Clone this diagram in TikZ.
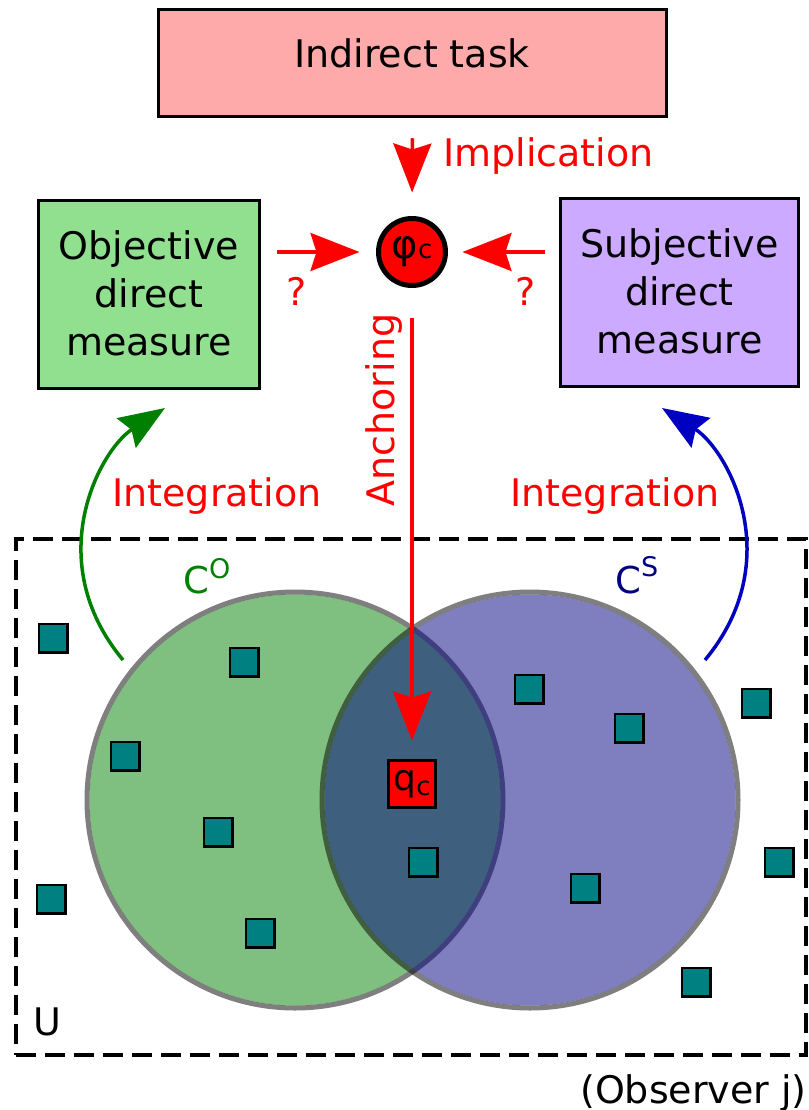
\documentclass[tikz,border=0pt]{standalone}
\usepackage{fontspec}
\setmainfont{DejaVu Sans}
\usetikzlibrary{arrows.meta,calc}
\definecolor{pinkbox}{HTML}{FFAAAA}
\definecolor{greenbox}{HTML}{90E090}
\definecolor{purplebox}{HTML}{CCAAFF}
\definecolor{tealsq}{HTML}{008080}
\definecolor{cgreen}{HTML}{008000}
\definecolor{cnavy}{HTML}{000080}
\definecolor{cblue}{HTML}{0000C0}
\begin{document}
\begin{tikzpicture}[x=1pt,y=-1pt,
  bigfont/.style={font=\fontsize{38}{48}\selectfont},
  lbl/.style={bigfont, text=red, inner sep=0pt},
  boxstyle/.style={draw=black, line width=3.5pt, inner sep=0pt},
  bigtip/.style={-{Stealth[length=49pt,width=38pt,inset=6pt]}, draw=red, line width=3.3pt},
  curvetip/.style={-{Stealth[length=46pt,width=35pt,inset=6pt]}, line width=3.5pt},
  sq/.style={draw=black, line width=2.5pt, fill=tealsq, minimum size=28.5pt, inner sep=0pt},
  venn/.style={circle, inner sep=0pt, minimum size=411pt, fill opacity=0.5, draw=none},
  ring/.style={draw=black, draw opacity=0.5, line width=5pt}
]
\useasboundingbox (0,0) rectangle (808,1110);

% universe
\node[draw=black, line width=3.5pt, dash pattern=on 20pt off 9pt, minimum width=790pt, minimum height=516pt, inner sep=0pt] (U) at (411,797) {};
\node[bigfont, anchor=base, inner sep=0pt] (Ulbl) at (47,1035) {U};
\node[bigfont, anchor=base east, inner sep=0pt] (obs) at (807,1103) {(Observer j)};

% Venn circles
\node[venn, fill=cgreen] (CO) at (295,800) {};
\draw[ring] (CO.center) circle[radius=208];
\node[venn, fill=cnavy] (CS) at (530,800) {};
\draw[ring] (CS.center) circle[radius=208];

\node[anchor=base west, inner sep=0pt, text=cgreen, font=\fontsize{37}{37}\selectfont] (COl) at (183,593) {C\raisebox{15pt}{\fontsize{27}{27}\selectfont O}};
\node[anchor=base west, inner sep=0pt, text=cnavy, font=\fontsize{37}{37}\selectfont] (CSl) at (615,593) {C\raisebox{17pt}{\fontsize{27}{27}\selectfont S}};

% elements
\node[sq] (s1) at (53,638) {};
\node[sq] (s2) at (244,662) {};
\node[sq] (s3) at (125,756) {};
\node[sq] (s4) at (218,832) {};
\node[sq] (s5) at (51,899) {};
\node[sq] (s6) at (260,933) {};
\node[sq] (s7) at (529,689) {};
\node[sq] (s8) at (629,728) {};
\node[sq] (s9) at (756,703) {};
\node[sq] (s10) at (423,862) {};
\node[sq] (s11) at (585,888) {};
\node[sq] (s12) at (779,862) {};
\node[sq] (s13) at (696,982) {};

% top boxes
\node[boxstyle, fill=pinkbox, minimum width=508pt, minimum height=107pt] (task) at (412.5,63) {};
\node[bigfont, anchor=base, inner sep=0pt] (tasktxt) at (412,68) {Indirect task};

\node[boxstyle, fill=greenbox, minimum width=221pt, minimum height=188pt] (obj) at (149,294.5) {};
\node[bigfont, align=center, inner sep=0pt] (objtxt) at (149,293.5) {Objective\\direct\\measure};

\node[boxstyle, fill=purplebox, minimum width=238pt, minimum height=188pt] (sub) at (679.5,292.5) {};
\node[bigfont, align=center, inner sep=0pt] (subtxt) at (679.5,291.5) {Subjective\\direct\\measure};

% phi and q
\node[circle, draw=black, line width=5pt, fill=red, minimum size=67pt, inner sep=0pt] (phi) at (412,252)
  {\fontsize{40}{40}\selectfont φ\fontsize{26}{26}\selectfont c};
\node[draw=black, line width=3pt, fill=red, minimum size=47pt, inner sep=0pt] (qc) at (412,784)
  {\fontsize{36}{36}\selectfont q\raisebox{-5pt}{\fontsize{26}{26}\selectfont c}};

% red arrows
\draw[bigtip, shorten <=20pt, shorten >=23.5pt] (task.south) -- (phi.north);
\draw[bigtip, shorten <=15.5pt, shorten >=16.5pt] (obj.east |- phi.west) -- (phi.west);
\draw[bigtip, shorten <=13.5pt, shorten >=14.5pt] (sub.west |- phi.east) -- (phi.east);
\draw[bigtip, shorten <=29.5pt, shorten >=18.5pt] (phi.south) -- (qc.north);

\node[lbl, anchor=base west] (impl) at (443,167) {Implication};
\node[lbl, anchor=base] (q1) at (297,305) {?};
\node[lbl, anchor=base] (q2) at (526,305) {?};
\node[lbl, anchor=base, rotate=90] (anch) at (394,410) {Anchoring};

% integration arrows
\coordinate (gstart) at (123,660);
\coordinate (gend) at (165,408);
\coordinate (bstart) at (705,660);
\coordinate (bend) at (662,408);
\draw[curvetip, draw=cgreen] (gstart) .. controls (40,560) and (100,450) .. (gend);
\draw[curvetip, draw=cblue] (bstart) .. controls (788,560) and (728,450) .. (bend);
\node[lbl, anchor=base] (int1) at (217,506) {Integration};
\node[lbl, anchor=base] (int2) at (615,506) {Integration};
\end{tikzpicture}
\end{document}
